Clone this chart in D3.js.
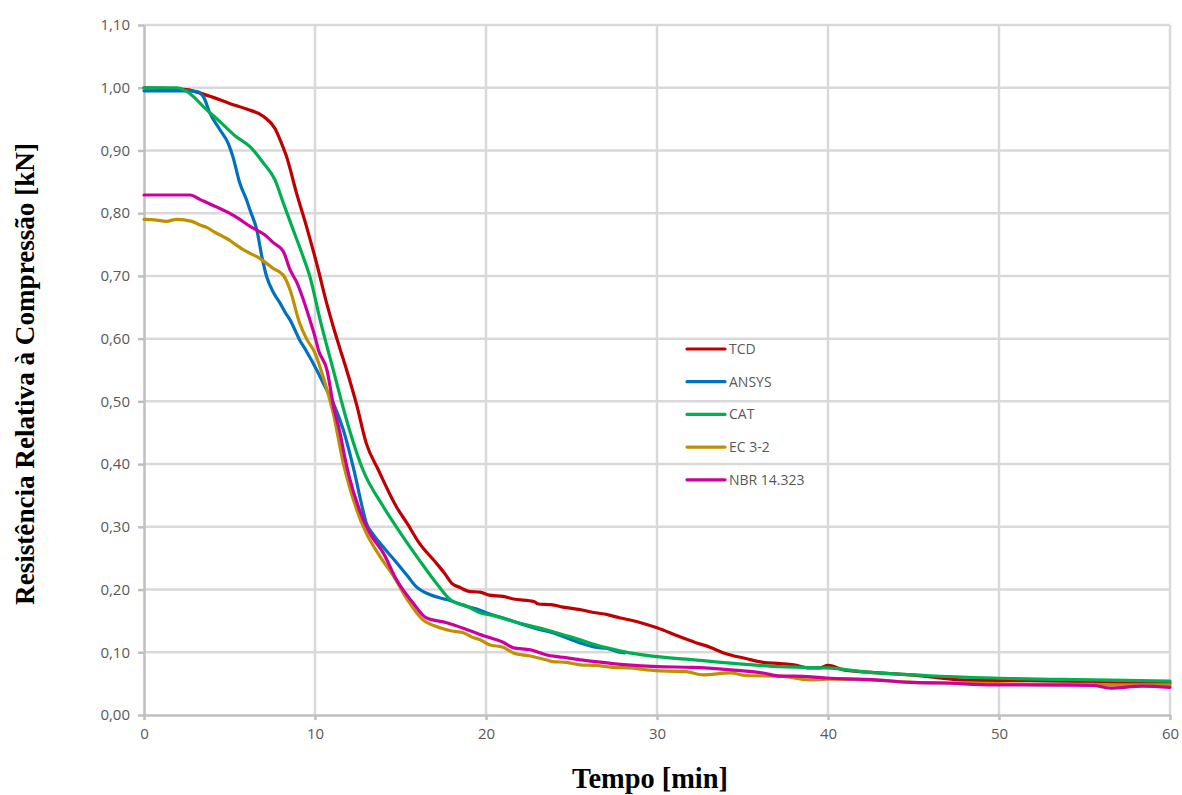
<!DOCTYPE html>
<html><head><meta charset="utf-8">
<script src="https://cdn.jsdelivr.net/npm/d3@7"></script>
<style>body{margin:0;background:#fff;} svg{display:block;}</style>
</head><body>
<svg id="chart" width="1182" height="795"></svg>
<script>
const seriesNames = ["TCD", "ANSYS", "CAT", "EC 3-2", "NBR 14.323"];
const seriesColors = ["#c00000", "#0070c0", "#00b050", "#c09000", "#cc00a0"];
const xTicks = [0, 10, 20, 30, 40, 50, 60];
const yTicks = [0, 0.1, 0.2, 0.3, 0.4, 0.5, 0.6, 0.7, 0.8, 0.9, 1.0, 1.1];

const tcd = [[0,1.0],[1,0.999],[2.5,0.997],[3.1,0.993],[4,0.985],[5,0.975],[6,0.966],[7,0.954],[7.66,0.935],[8.05,0.911],[8.34,0.89],[8.92,0.832],[9.5,0.779],[10.2,0.709],[10.6,0.665],[11.07,0.619],[11.46,0.584],[11.85,0.55],[12.44,0.494],[13.0,0.433],[13.7,0.391],[14.76,0.332],[15.4,0.305],[16.1,0.274],[17.1,0.242],[17.6,0.225],[18.0,0.21],[18.5,0.203],[19.0,0.197],[19.65,0.196],[20.2,0.191],[21.0,0.189],[21.6,0.185],[22.8,0.181],[23.06,0.177],[23.8,0.176],[24.5,0.172],[25.5,0.168],[26.4,0.163],[27.1,0.16],[27.8,0.155],[28.5,0.151],[29.2,0.146],[30.0,0.139],[31.3,0.125],[32.2,0.116],[33.1,0.108],[33.9,0.099],[35.2,0.09],[36.2,0.084],[37.2,0.082],[38.0,0.08],[38.9,0.075],[39.5,0.075],[40.0,0.079],[40.9,0.072],[42.5,0.068],[44.8,0.064],[46.3,0.06],[47.7,0.056],[50.5,0.055],[53.6,0.054],[55.5,0.053],[57.5,0.051],[60,0.051]];

const ansys = [[0,0.995],[1,0.995],[2.1,0.995],[2.6,0.995],[3.08,0.994],[3.47,0.986],[3.86,0.959],[4.44,0.933],[4.93,0.911],[5.2,0.89],[5.6,0.848],[6.0,0.821],[6.2,0.805],[6.6,0.773],[6.9,0.73],[7.17,0.699],[7.6,0.672],[7.95,0.657],[8.3,0.64],[8.54,0.63],[9.1,0.598],[9.5,0.58],[10.1,0.55],[10.5,0.528],[11.07,0.497],[11.65,0.455],[12.27,0.391],[12.8,0.327],[13.0,0.306],[13.4,0.288],[13.8,0.274],[14.3,0.258],[14.8,0.242],[15.4,0.222],[15.9,0.205],[16.7,0.192],[17.7,0.184],[18.9,0.173],[19.65,0.167],[20.0,0.163],[21.2,0.153],[22.2,0.144],[23.0,0.137],[23.9,0.131],[24.7,0.123],[25.5,0.115],[26.4,0.108],[27.1,0.106],[27.8,0.1],[28.1,0.099]];

const cat = [[0,1.0],[1,1.0],[1.9,1.0],[2.5,0.994],[3.0,0.983],[3.47,0.97],[4.44,0.946],[5.3,0.924],[6.2,0.906],[6.98,0.88],[7.66,0.853],[8.15,0.816],[8.73,0.773],[9.3,0.731],[9.7,0.699],[10.3,0.63],[11.07,0.55],[11.85,0.47],[12.8,0.391],[14.0,0.332],[15.0,0.29],[16.1,0.247],[17.1,0.21],[17.9,0.184],[18.9,0.173],[19.65,0.163],[20.5,0.158],[21.6,0.149],[22.6,0.142],[23.5,0.136],[24.5,0.128],[25.5,0.12],[26.4,0.112],[27.4,0.105],[28.4,0.099],[30.0,0.093],[31.7,0.089],[33.3,0.085],[35.0,0.081],[36.0,0.079],[37.2,0.077],[39.9,0.075],[42.5,0.068],[45.7,0.063],[49.7,0.059],[55.5,0.056],[60,0.054]];

const ec32 = [[0,0.79],[0.74,0.789],[1.3,0.787],[1.9,0.79],[2.8,0.787],[3.27,0.781],[3.7,0.777],[4.05,0.771],[4.6,0.763],[5.0,0.757],[5.4,0.749],[5.8,0.742],[6.2,0.736],[6.77,0.728],[7.17,0.72],[7.55,0.712],[7.95,0.706],[8.15,0.701],[8.54,0.678],[9.1,0.625],[9.5,0.6],[10.0,0.577],[10.5,0.537],[11.07,0.481],[11.65,0.402],[11.85,0.38],[12.44,0.327],[13.0,0.29],[13.8,0.253],[14.6,0.221],[15.4,0.184],[16.3,0.152],[17.1,0.141],[18.0,0.134],[18.67,0.131],[19.2,0.124],[19.65,0.12],[20.2,0.112],[21.0,0.108],[21.6,0.099],[22.6,0.094],[23.5,0.088],[23.9,0.085],[24.7,0.084],[25.5,0.08],[26.4,0.079],[27.4,0.076],[28.4,0.075],[29.4,0.072],[30.6,0.07],[31.7,0.069],[32.7,0.064],[34.3,0.067],[35.2,0.063],[37.2,0.062],[38.9,0.056],[40.0,0.057],[42.5,0.056],[45.0,0.052],[47.5,0.051],[50.0,0.05],[52.5,0.048],[55.0,0.049],[57.5,0.048],[60,0.048]];

const nbr = [[0,0.829],[1,0.829],[2.7,0.829],[3.27,0.822],[4.24,0.81],[5.0,0.8],[5.6,0.79],[6.2,0.779],[7.17,0.763],[7.56,0.753],[8.15,0.739],[8.54,0.71],[8.93,0.69],[9.7,0.63],[10.0,0.603],[10.2,0.582],[10.7,0.55],[11.1,0.49],[11.46,0.45],[11.75,0.41],[12.0,0.38],[12.6,0.327],[13.2,0.29],[14.0,0.258],[14.76,0.216],[15.75,0.178],[16.5,0.155],[17.7,0.147],[18.9,0.136],[20.0,0.125],[21.0,0.116],[21.6,0.107],[22.6,0.104],[23.5,0.096],[24.5,0.092],[25.5,0.088],[26.4,0.085],[27.4,0.082],[28.7,0.079],[30.0,0.077],[32.1,0.076],[34.3,0.072],[36.2,0.067],[37.2,0.062],[38.0,0.062],[39.9,0.059],[42.8,0.056],[44.8,0.052],[46.7,0.051],[49.7,0.048],[52.6,0.048],[55.5,0.047],[56.5,0.043],[58.4,0.046],[60,0.044]];

const seriesData = [tcd, ansys, cat, ec32, nbr];

const W = 1182, H = 795;
const m = {left:144, right:12, top:25, bottom:80};
const svg = d3.select("#chart");
const x = d3.scaleLinear().domain([0,60]).range([m.left, W - m.right]);
const y = d3.scaleLinear().domain([0,1.1]).range([H - m.bottom, m.top]);
const fmt = v => d3.format(".2f")(v).replace(".", ",");

// grid
const g = svg.append("g");
g.selectAll(".hg").data(yTicks.slice(1)).join("line")
  .attr("x1", x(0)).attr("x2", x(60)).attr("y1", d=>y(d)).attr("y2", d=>y(d))
  .attr("stroke", "#d9d9d9").attr("stroke-width", 2.5);
g.selectAll(".vg").data(xTicks.slice(1)).join("line")
  .attr("y1", y(0)).attr("y2", y(1.1)).attr("x1", d=>x(d)).attr("x2", d=>x(d))
  .attr("stroke", "#d9d9d9").attr("stroke-width", 2.5);

// axes
const xAxis = svg.append("g").attr("transform", `translate(0,${y(0)})`)
  .call(d3.axisBottom(x).tickValues(xTicks).tickSize(5).tickPadding(8).tickSizeOuter(0));
const yAxis = svg.append("g").attr("transform", `translate(${x(0)},0)`)
  .call(d3.axisLeft(y).tickValues(yTicks).tickFormat(fmt).tickSize(6).tickPadding(8).tickSizeOuter(0));
[xAxis, yAxis].forEach(a => {
  a.selectAll("path.domain").attr("stroke", "#bfbfbf").attr("stroke-width", 2.5);
  a.selectAll(".tick line").attr("stroke", "#bfbfbf").attr("stroke-width", 2.5);
  a.selectAll("text").attr("fill", "#595959").style("font-family", "'Open Sans', 'Liberation Sans', sans-serif").style("font-size", "15px");
});

// lines
const line = d3.line().x(d=>x(d[0])).y(d=>y(d[1])).curve(d3.curveMonotoneX);
seriesData.forEach((s, i) => {
  svg.append("path").datum(s).attr("d", line)
    .attr("fill", "none").attr("stroke", seriesColors[i]).attr("stroke-width", 3.2)
    .attr("stroke-linejoin", "round").attr("stroke-linecap", "round");
});

// legend
const lg = svg.append("g").attr("transform", "translate(687,349)");
seriesNames.forEach((n, i) => {
  const r = lg.append("g").attr("transform", `translate(0,${i*32.7})`);
  r.append("line").attr("x1", 0).attr("x2", 38).attr("stroke", seriesColors[i]).attr("stroke-width", 3.2).attr("stroke-linecap","round");
  r.append("text").attr("x", 42).attr("y", 5).text(n).attr("fill", "#595959")
    .style("font-family", "'Open Sans', 'Liberation Sans', sans-serif").style("font-size", "14px");
});

// titles
function fitText(sel, target) {
  const len = sel.node().getComputedTextLength();
  const fs = parseFloat(sel.style("font-size"));
  sel.style("font-size", (fs * target / len) + "px");
}
const xt = svg.append("text").attr("x", 650).attr("y", 788).attr("text-anchor", "middle")
  .text("Tempo [min]").attr("fill", "#000")
  .style("font-family", "'Liberation Serif', 'DejaVu Serif', serif").style("font-weight", "bold").style("font-size", "28px");
fitText(xt, 156);
const yt = svg.append("text").attr("transform", "translate(34,374) rotate(-90)").attr("text-anchor", "middle")
  .text("Resistência Relativa à Compressão [kN]").attr("fill", "#000")
  .style("font-family", "'Liberation Serif', 'DejaVu Serif', serif").style("font-weight", "bold").style("font-size", "27px");
fitText(yt, 462);
</script>
</body></html>
